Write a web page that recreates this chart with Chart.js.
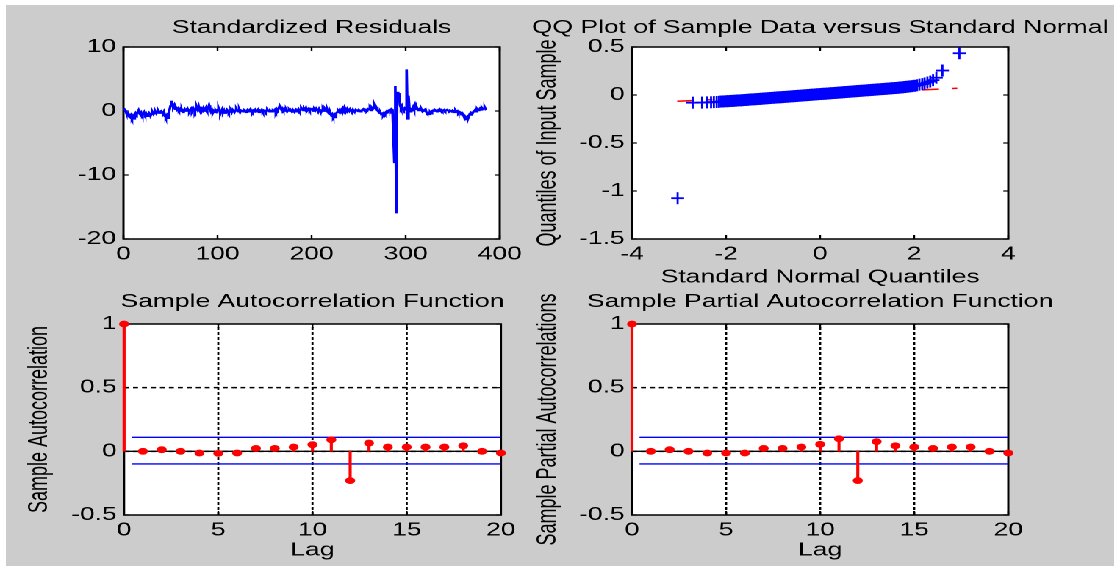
<!DOCTYPE html>
<html><head><meta charset="utf-8">
<script src="https://cdn.jsdelivr.net/npm/chart.js@4.4.1/dist/chart.umd.min.js"></script>
<style>
html,body{margin:0;padding:0;background:#fff;width:1120px;height:569px;overflow:hidden;}
#fig{position:absolute;left:6px;top:5px;width:1108px;height:561px;background:#cccccc;}
#stage{position:absolute;left:0;top:0;width:762px;height:569px;transform:scaleX(1.469816);transform-origin:0 0;}
#stage canvas{position:absolute;left:0;top:0;}
</style></head><body>
<div id="fig"></div>
<div id="stage">
<canvas id="c1" width="762" height="569"></canvas>
<canvas id="c2" width="762" height="569"></canvas>
<canvas id="c3" width="762" height="569"></canvas>
<canvas id="c4" width="762" height="569"></canvas>
</div>
<script>
// ---------- data ----------
const residValues = [
 0.4, 0.3, 0.1, -0.3, -0.6, -0.4, -0.9, -1.0, -0.7, -1.1,
 -0.8, -1.2, -0.6, -0.3, -0.5, -0.2, 0.1, -0.4, -0.6, -0.3,
 -0.7, -0.5, -0.2, -0.6, -0.4, -0.8, -0.5, -0.3, -0.6, -0.7,
 -0.4, -0.2, -0.5, -0.3, -0.1, -0.4, -0.2, 0.0, -0.3, -0.1,
 0.0, -0.2, -0.4, -0.1, -0.6, -1.0, -0.7, -1.1, -0.4, 0.2,
 0.8, 1.6, 1.1, 0.6, 0.9, 0.3, 0.5, 0.2, 0.4, 0.1,
 0.3, 0.0, 0.2, -0.2, 0.1, 0.3, 0.0, 0.2, 0.4, 0.1,
 -0.1, 0.2, 0.4, 0.1, 0.5, 0.2, -0.1, 0.3, 0.6, 0.2,
 0.7, 0.1, -0.2, 0.4, 0.2, 0.5, 0.0, 0.3, 0.6, 0.2,
 0.4, 0.9, 0.3, -0.1, 0.2, -0.3, 0.0, -0.2, 0.1, -0.1,
 0.2, 0.5, 0.1, -0.4, 0.0, 0.3, -0.2, 0.1, -0.3, -0.1,
 0.2, 0.0, -0.3, -0.1, 0.1, -0.2, 0.2, 0.0, -0.2, 0.1,
 0.3, 0.0, -0.1, 0.2, -0.2, 0.1, 0.0, -0.1, 0.2, 0.1,
 -0.2, 0.0, 0.2, -0.1, 0.1, 0.3, 0.0, -0.2, 0.1, 0.0,
 0.2, -0.1, 0.0, 0.2, -0.2, 0.1, 0.0, 0.2, -0.1, 0.1,
 0.0, -0.2, 0.1, 0.2, 0.0, -0.1, 0.1, 0.0, -0.1, 0.1,
 0.0, 0.2, -0.1, 0.3, 0.1, 0.4, 0.8, 0.5, 0.2, 0.4,
 0.1, 0.3, 0.0, 0.2, -0.1, 0.1, 0.2, 0.0, 0.1, -0.1,
 0.2, 0.0, 0.1, -0.1, 0.2, 0.1, 0.3, 0.0, 0.2, 0.5,
 0.3, 0.1, 0.4, 0.2, 0.5, 0.0, 0.2, 0.4, 0.1, 0.3,
 0.2, 0.5, 0.0, 0.3, 0.1, 0.4, 0.2, -0.1, 0.3, 0.0,
 -0.2, 0.1, 0.3, 0.0, 0.4, 0.2, -0.1, 0.1, -0.3, -0.5,
 -0.3, -0.7, -0.5, -0.9, -0.6, -1.0, -0.4, -0.2, 0.1, -0.1,
 0.2, 0.0, 0.3, 0.5, 0.2, 0.6, 0.3, 0.1, 0.4, 0.2,
 0.0, 0.3, 0.1, -0.2, 0.2, 0.0, -0.1, 0.2, 0.1, 0.0,
 0.2, 0.1, -0.1, 0.0, 0.2, 0.3, 0.1, 0.0, 0.2, 0.1,
 0.3, 0.2, 0.4, 0.1, 0.5, 0.3, 0.6, 0.8, 0.4, 0.1,
 0.2, -0.1, -0.3, -0.2, -0.5, -0.4, -0.6, -0.3, -0.5, -0.2,
 0.0, -0.1, 0.1, 0.2, 0.0, 0.3, 0.2, 0.2, -8.0, 3.9,
 -16.0, 3.0, 1.5, 2.8, 0.9, 0.5, 0.8, 0.3, 0.1, 0.4,
 0.2, 6.5, -1.2, 2.4, 0.4, -0.1, 0.3, 0.2, 0.6, 0.2,
 0.8, 0.3, 0.5, 0.1, 0.3, 0.4, 0.1, 0.2, -0.1, 0.0,
 0.2, 0.3, -0.2, -0.4, -0.3, -0.5, -0.2, -0.4, 0.0, 0.1,
 0.0, 0.2, 0.1, -0.1, 0.1, 0.2, 0.3, 0.1, 0.2, 0.0,
 0.1, 0.2, 0.0, 0.1, 0.2, 0.1, -0.1, 0.1, 0.0, -0.1,
 0.1, 0.0, -0.2, 0.1, -0.1, 0.0, -0.3, -0.1, -0.2, -0.4,
 -0.3, -0.5, -0.8, -1.3, -1.0, -1.2, -0.8, -0.9, -0.5, -0.6,
 -0.3, -0.4, -0.1, 0.0, 0.2, -0.1, 0.3, 0.1, 0.2, 0.4,
 0.2, 0.5, 0.3, 0.4, 0.6, 0.3, 0.4
];
const residXTicks = [0, 100, 200, 300, 400];
const residXLabels = ['0', '100', '200', '300', '400'];
const residYTicks = [-20, -10, 0, 10];
const residYLabels = ['-20', '-10', '0', '10'];

const qqX = [-3.03, -2.71, -2.51, -2.40, -2.32, -2.26, -2.20, -2.15,
 -2.10, -2.05, -2.00, -1.95, -1.90, -1.85, -1.80, -1.75, -1.70, -1.65,
 -1.60, -1.55, -1.50, -1.45, -1.40, -1.35, -1.30, -1.25, -1.20, -1.15,
 -1.10, -1.05, -1.00, -0.95, -0.90, -0.85, -0.80, -0.75, -0.70, -0.65,
 -0.60, -0.55, -0.50, -0.45, -0.40, -0.35, -0.30, -0.25, -0.20, -0.15,
 -0.10, -0.05, 0.00, 0.05, 0.10, 0.15, 0.20, 0.25, 0.30, 0.35,
 0.40, 0.45, 0.50, 0.55, 0.60, 0.65, 0.70, 0.75, 0.80, 0.85,
 0.90, 0.95, 1.00, 1.05, 1.10, 1.15, 1.20, 1.25, 1.30, 1.35,
 1.40, 1.45, 1.50, 1.55, 1.60, 1.65, 1.70, 1.75, 1.80, 1.85,
 1.90, 1.95, 2.00, 2.06, 2.11, 2.17, 2.22, 2.28, 2.34, 2.40,
 2.47, 2.60, 2.96];
const qqY = [-1.075, -0.080, -0.079, -0.077, -0.076, -0.074, -0.073, -0.071,
 -0.068, -0.067, -0.065, -0.064, -0.062, -0.061, -0.059, -0.057, -0.056, -0.054,
 -0.052, -0.050, -0.048, -0.046, -0.045, -0.043, -0.041, -0.039, -0.037, -0.035,
 -0.033, -0.031, -0.029, -0.027, -0.025, -0.024, -0.022, -0.020, -0.018, -0.016,
 -0.014, -0.012, -0.010, -0.008, -0.006, -0.004, -0.002, 0.000, 0.002, 0.004,
 0.006, 0.008, 0.010, 0.012, 0.013, 0.015, 0.017, 0.019, 0.021, 0.023,
 0.025, 0.027, 0.029, 0.031, 0.033, 0.035, 0.037, 0.039, 0.041, 0.043,
 0.045, 0.047, 0.049, 0.051, 0.053, 0.055, 0.057, 0.059, 0.061, 0.063,
 0.065, 0.067, 0.069, 0.071, 0.073, 0.075, 0.078, 0.080, 0.083, 0.086,
 0.089, 0.092, 0.096, 0.101, 0.108, 0.113, 0.120, 0.130, 0.140, 0.155,
 0.180, 0.255, 0.435];
const qqLineX = [-3.04, 2.92];
const qqLineY = [-0.065, 0.070];
const qqXTicks = [-4, -2, 0, 2, 4];
const qqXLabels = ['-4', '-2', '0', '2', '4'];
const qqYTicks = [-1.5, -1, -0.5, 0, 0.5];
const qqYLabels = ['-1.5', '-1', '-0.5', '0', '0.5'];

const lags = [0, 1, 2, 3, 4, 5, 6, 7, 8, 9, 10, 11, 12, 13, 14, 15, 16, 17, 18, 19, 20];
const acfValues = [1.0, 0.0, 0.013, 0.0, -0.013, -0.016, -0.013, 0.023, 0.023, 0.034, 0.052,
 0.091, -0.23, 0.065, 0.034, 0.034, 0.034, 0.034, 0.044, 0.0, -0.013];
const pacfValues = [1.0, 0.0, 0.013, 0.0, -0.013, -0.013, -0.013, 0.023, 0.023, 0.034, 0.055,
 0.099, -0.23, 0.076, 0.044, 0.034, 0.023, 0.034, 0.034, 0.0, -0.013];
const boundLags = [0.4, 20];
const acfUpper = [0.11, 0.11];
const acfLower = [-0.099, -0.099];
const pacfUpper = [0.11, 0.11];
const pacfLower = [-0.099, -0.099];
const baseLags = [0, 20];
const baseZero = [0, 0];
const lagTicks = [0, 5, 10, 15, 20];
const lagLabels = ['0', '5', '10', '15', '20'];
const corrTicks = [-0.5, 0, 0.5, 1];
const corrLabels = ['-0.5', '0', '0.5', '1'];

// ---------- helpers ----------
Chart.defaults.font.family = "'Liberation Sans', Arial, Helvetica, sans-serif";
Chart.defaults.font.size = 18;
Chart.defaults.color = '#000';
const W = 762, H = 569;
const pts = (xs, ys) => xs.map((x, i) => ({x: x, y: ys[i]}));

const matlabAxes = {
  id: 'matlabAxes',
  beforeDraw(chart) {
    const {ctx, chartArea: a} = chart;
    ctx.save(); ctx.fillStyle = '#ffffff';
    ctx.fillRect(a.left, a.top, a.right - a.left, a.bottom - a.top);
    ctx.restore();
  },
  beforeDatasetsDraw(chart, args, opts) {
    const {ctx, chartArea: a} = chart;
    const x = chart.scales.x, y = chart.scales.y;
    const seg = (x1, y1, x2, y2) => { ctx.beginPath(); ctx.moveTo(x1, y1); ctx.lineTo(x2, y2); ctx.stroke(); };
    ctx.save();
    ctx.strokeStyle = '#000';
    if (opts.grid) {
      ctx.lineWidth = 1.4; ctx.setLineDash([3, 2]);
      x.ticks.forEach(t => { const p = x.getPixelForValue(t.value); if (p > a.left + 1 && p < a.right - 1) seg(p, a.bottom, p, a.top); });
      ctx.lineWidth = 1.5; ctx.setLineDash([3.4, 2.7]);
      y.ticks.forEach(t => { const p = y.getPixelForValue(t.value); if (p > a.top + 1 && p < a.bottom - 1) seg(a.left, p, a.right, p); });
      ctx.setLineDash([]);
    }
    ctx.lineWidth = 1.2;
    x.ticks.forEach(t => { const p = x.getPixelForValue(t.value); seg(p, a.bottom, p, a.bottom - 4); seg(p, a.top, p, a.top + 4); });
    y.ticks.forEach(t => { const p = y.getPixelForValue(t.value); seg(a.left, p, a.left + 3.4, p); seg(a.right, p, a.right - 3.4, p); });
    ctx.lineWidth = 1.5;
    ctx.strokeRect(a.left, a.top, a.right - a.left, a.bottom - a.top);
    ctx.restore();
  }
};

function makeScale(min, max, tickVals, tickLabels, size, isX, title, titlePad) {
  return {
    type: 'linear', min: min, max: max, offset: false,
    grid: {display: false, drawTicks: false},
    border: {display: false},
    afterBuildTicks: s => { s.ticks = tickVals.map(v => ({value: v})); },
    ticks: {padding: isX ? 4.5 : 5, maxRotation: 0, minRotation: 0, autoSkip: false, color: '#000',
      font: {size: 18, lineHeight: 1.2}, callback: (v, i) => tickLabels[i]},
    title: title ? {display: true, text: title, padding: {top: titlePad || 0, bottom: 0}, color: '#000', font: {size: 18, lineHeight: 1.2}} : {display: false},
    afterFit: s => { if (isX) s.height = size; else s.width = size; }
  };
}
// an empty right-hand axis of the same width as the left one keeps the
// full-width title centred over the plot box (as MATLAB does)
function spacerScale(size) {
  return {
    type: 'linear', position: 'right', display: true, min: 0, max: 1,
    grid: {display: false, drawTicks: false}, border: {display: false},
    ticks: {display: false},
    afterFit: s => { s.width = size; }
  };
}
function makeOptions(area, titleText, xScale, yScale, grid) {
  return {
    responsive: false, animation: false, devicePixelRatio: 2, events: [],
    layout: {padding: {left: area.l - area.yW, right: W - area.r - area.yW, top: area.titleTop, bottom: H - area.b - area.xH}},
    plugins: {
      legend: {display: false}, tooltip: {enabled: false},
      title: {display: true, text: titleText, fullSize: true, color: '#000',
        padding: {top: 0, bottom: area.t - area.titleTop - 21.6},
        font: {size: 18, weight: 'normal', lineHeight: 1.2}},
      matlabAxes: {grid: grid}
    },
    scales: {x: xScale, y: yScale, yR: spacerScale(area.yW)}
  };
}

// ---------- layout (unscaled coordinates) ----------
const areaTL = {l: 84, r: 340, t: 47, b: 239, titleTop: 17.2, yW: 40, xH: 30, yPad: 0};
const areaTR = {l: 430, r: 686, t: 47, b: 239, titleTop: 17.2, yW: 72, xH: 49.3, yPad: 4};
const areaBL = {l: 84.4, r: 340.8, t: 324, b: 515, titleTop: 291.2, yW: 68.3, xH: 46.3, yPad: 0};
const areaBR = {l: 430, r: 686, t: 324, b: 515, titleTop: 291.2, yW: 72, xH: 46.3, yPad: 4};

// ---------- chart 1: residuals ----------
new Chart(document.getElementById('c1'), {
  type: 'line',
  data: {datasets: [{
    data: residValues.map((v, i) => ({x: i, y: v})),
    borderColor: '#0000ff', borderWidth: 1.8, pointRadius: 0, tension: 0, fill: false
  }]},
  options: makeOptions(areaTL, 'Standardized Residuals',
    makeScale(0, 400, residXTicks, residXLabels, areaTL.xH, true, null),
    makeScale(-20, 10, residYTicks, residYLabels, areaTL.yW, false, null), false),
  plugins: [matlabAxes]
});

// ---------- chart 2: QQ plot ----------
const inBand = c => c.raw && c.raw.x > -2.12 && c.raw.x < 2.02;
new Chart(document.getElementById('c2'), {
  type: 'scatter',
  data: {datasets: [
    {data: pts(qqX, qqY), showLine: false, pointStyle: 'line', pointRadius: 4.4, pointRotation: 0,
     pointBorderWidth: 1.8, pointBorderColor: '#0000ff', borderColor: '#0000ff', pointBackgroundColor: '#0000ff'},
    {data: pts(qqX, qqY), showLine: false, pointStyle: 'line', pointRadius: 6, pointRotation: 90,
     pointBorderWidth: c => inBand(c) ? 2.2 : 1.4, pointBorderColor: '#0000ff', borderColor: '#0000ff', pointBackgroundColor: '#0000ff'},
    {type: 'line', data: pts(qqLineX, qqLineY), borderColor: '#ff0000', borderWidth: 1.5,
     borderDash: [11.5, 9, 3.5, 9.4], pointRadius: 0, tension: 0, fill: false}
  ]},
  options: makeOptions(areaTR, 'QQ Plot of Sample Data versus Standard Normal',
    makeScale(-4, 4, qqXTicks, qqXLabels, areaTR.xH, true, 'Standard Normal Quantiles'),
    makeScale(-1.5, 0.5, qqYTicks, qqYLabels, areaTR.yW, false, 'Quantiles of Input Sample', areaTR.yPad), false),
  plugins: [matlabAxes]
});

// ---------- charts 3/4: ACF & PACF ----------
function stemChart(id, area, titleText, yTitle, values, upper, lower) {
  new Chart(document.getElementById(id), {
    type: 'bar',
    data: {datasets: [
      {type: 'scatter', data: pts(lags, values), showLine: false, pointRadius: 3.4, pointBorderWidth: 0,
       pointBackgroundColor: '#ff0000', backgroundColor: '#ff0000', borderColor: '#ff0000', clip: false},
      {type: 'bar', data: pts(lags, values), backgroundColor: '#ff0000', barThickness: 1.4, borderWidth: 0, clip: false},
      {type: 'line', data: pts(boundLags, upper), borderColor: '#0000ff', borderWidth: 1.4, pointRadius: 0, fill: false},
      {type: 'line', data: pts(boundLags, lower), borderColor: '#0000ff', borderWidth: 1.4, pointRadius: 0, fill: false},
      {type: 'line', data: pts(baseLags, baseZero), borderColor: '#000000', borderWidth: 1.4, pointRadius: 0, fill: false}
    ]},
    options: makeOptions(area, titleText,
      makeScale(0, 20, lagTicks, lagLabels, area.xH, true, 'Lag'),
      makeScale(-0.5, 1, corrTicks, corrLabels, area.yW, false, yTitle, area.yPad), true),
    plugins: [matlabAxes]
  });
}
stemChart('c3', areaBL, 'Sample Autocorrelation Function', 'Sample Autocorrelation', acfValues, acfUpper, acfLower);
stemChart('c4', areaBR, 'Sample Partial Autocorrelation Function', 'Sample Partial Autocorrelations', pacfValues, pacfUpper, pacfLower);
</script>
</body></html>
